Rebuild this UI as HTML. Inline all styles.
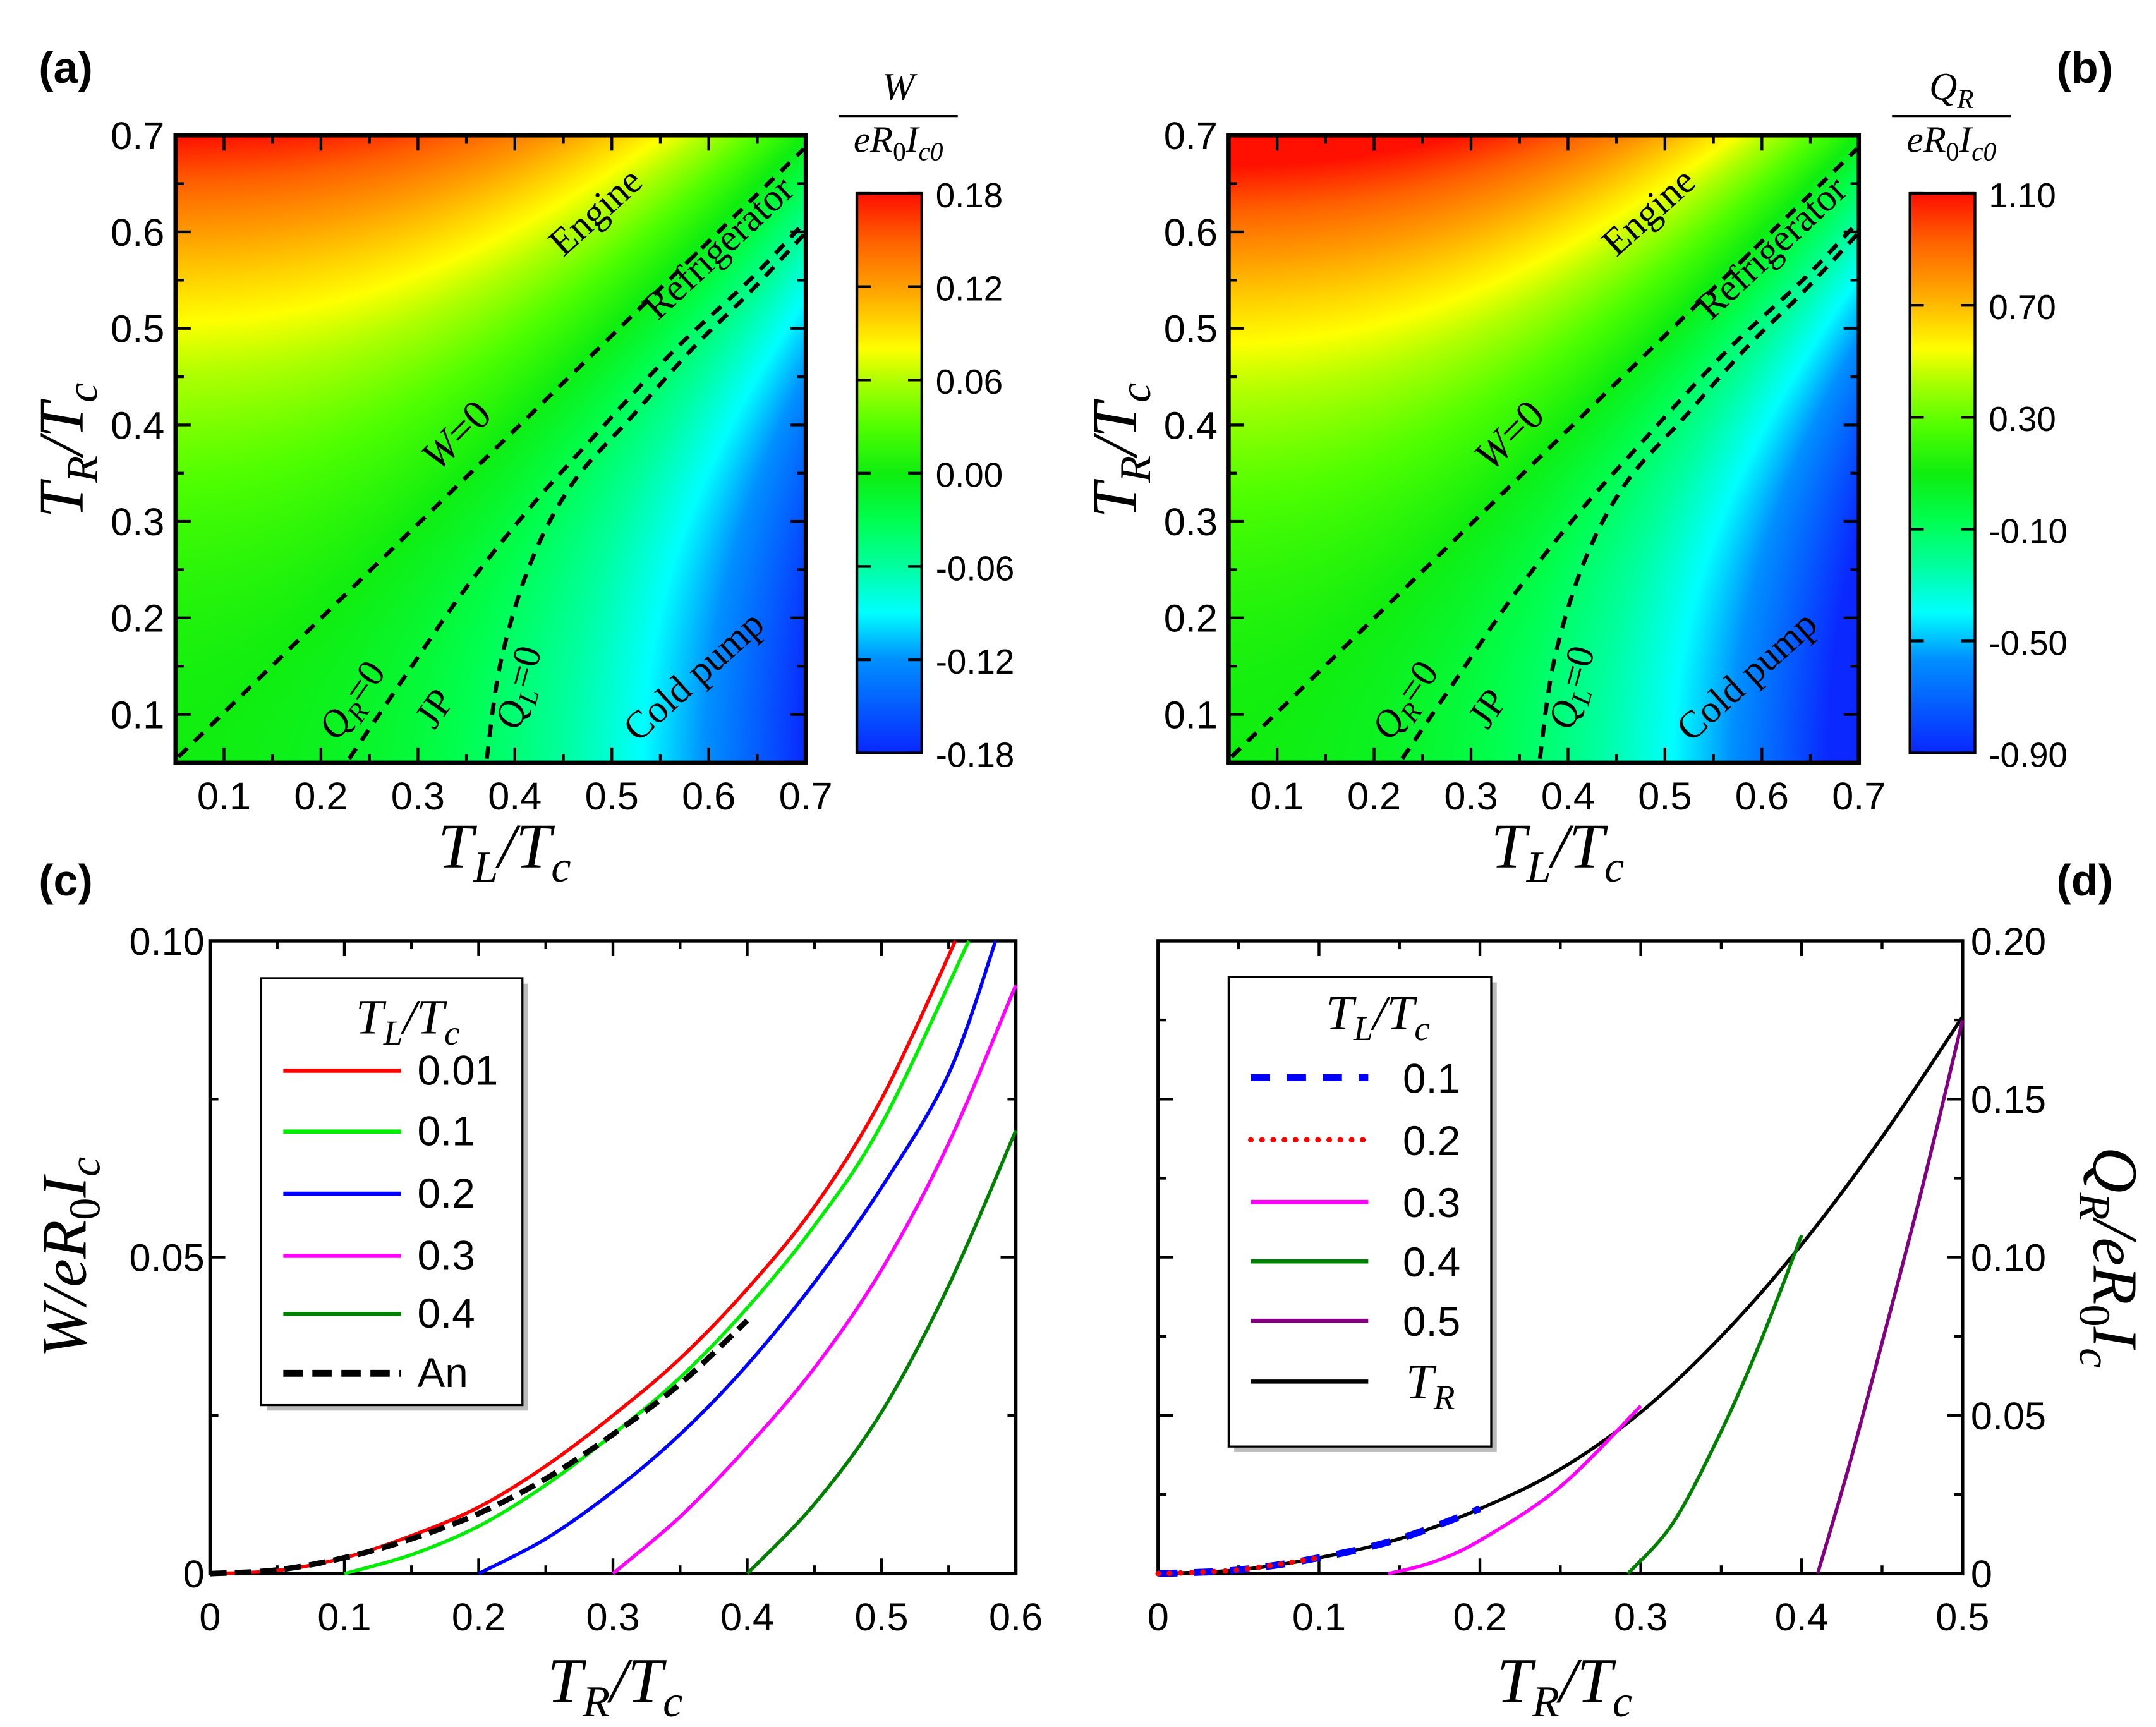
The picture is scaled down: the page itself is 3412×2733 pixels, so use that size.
<!DOCTYPE html>
<html><head><meta charset="utf-8"><style>
html,body{margin:0;padding:0;background:#fff;}
#wrap{position:relative;width:3412px;height:2733px;overflow:hidden;background:#fff;}
canvas{position:absolute;}
svg{position:absolute;left:0;top:0;}
</style></head><body>
<div id="wrap">
<canvas id="hmA"></canvas>
<canvas id="hmB"></canvas>
<canvas id="cbA"></canvas>
<canvas id="cbB"></canvas>
<svg id="fig" width="3412" height="2733" viewBox="0 0 1560 1250" preserveAspectRatio="none" xmlns="http://www.w3.org/2000/svg">
<g font-family="Liberation Sans, sans-serif" font-weight="bold" font-size="32">
<text x="28" y="60">(a)</text>
<text x="1488" y="60">(b)</text>
<text x="28" y="648">(c)</text>
<text x="1488" y="648">(d)</text>
</g>
<g id="layer"></g>
</svg>
</div>
<script>
// ---------- data ----------
const mapTicks = [0.1,0.2,0.3,0.4,0.5,0.6,0.7];
const cbLabelsA = ["0.18","0.12","0.06","0.00","-0.06","-0.12","-0.18"];
const cbLabelsB = ["1.10","0.70","0.30","-0.10","-0.50","-0.90"];
const w0TL = [0.053,0.698];
const w0TR = [0.056,0.686];
const qrTL = [0.229,0.287,0.348,0.412,0.477,0.564,0.642,0.698];
const qrTR = [0.054,0.14,0.229,0.31,0.383,0.477,0.55,0.609];
const qlTL = [0.371,0.386,0.417,0.46,0.521,0.585,0.642,0.698];
const qlTR = [0.054,0.157,0.259,0.34,0.409,0.481,0.537,0.597];

const cX = [0,0.1,0.2,0.3,0.4,0.5,0.6];
const cY = [0,0.05,0.10];
const cYLabels = ["0","0.05","0.10"];
const redTR = [0,0.05,0.1,0.15,0.2,0.25,0.3,0.35,0.4,0.45,0.5,0.555];
const redW  = [0,0.0005,0.0025,0.006,0.0105,0.017,0.025,0.034,0.045,0.058,0.075,0.1];
const grnTR = [0.1,0.15,0.2,0.25,0.3,0.35,0.4,0.45,0.5,0.565];
const grnW  = [0,0.003,0.0075,0.014,0.022,0.031,0.042,0.055,0.071,0.1];
const bluTR = [0.2,0.25,0.3,0.35,0.4,0.45,0.5,0.55,0.585];
const bluW  = [0,0.0055,0.013,0.022,0.033,0.046,0.061,0.079,0.1];
const magTR = [0.3,0.35,0.4,0.45,0.5,0.55,0.6];
const magW  = [0,0.009,0.02,0.0325,0.048,0.068,0.093];
const dgrTR = [0.4,0.45,0.5,0.55,0.6];
const dgrW  = [0,0.011,0.0255,0.0455,0.07];
const anTR  = [0,0.05,0.1,0.15,0.2,0.25,0.3,0.35,0.4];
const anW   = [0,0.0006,0.0025,0.0055,0.0095,0.015,0.022,0.03,0.04];

const dX = [0,0.1,0.2,0.3,0.4,0.5];
const dY = [0,0.05,0.10,0.15,0.20];
const dYLabels = ["0","0.05","0.10","0.15","0.20"];
const blkTR = [0,0.05,0.1,0.15,0.2,0.25,0.3,0.35,0.4,0.45,0.5];
const blkQ  = [0,0.0012,0.005,0.011,0.0205,0.033,0.051,0.075,0.104,0.138,0.176];
const d1TR = [0,0.05,0.1,0.15,0.2];
const d1Q  = [0,0.0012,0.005,0.011,0.0205];
const d2TR = [0,0.05,0.1];
const d2Q  = [0,0.0012,0.005];
const d3TR = [0.143,0.17,0.2,0.25,0.3];
const d3Q  = [0,0.0035,0.0105,0.0275,0.053];
const d4TR = [0.292,0.32,0.35,0.375,0.4];
const d4Q  = [0,0.016,0.045,0.074,0.107];
const d5TR = [0.41,0.43,0.45,0.475,0.5];
const d5Q  = [0,0.035,0.073,0.122,0.175];

// ---------- helpers ----------
const NS="http://www.w3.org/2000/svg";
const layer=document.getElementById('layer');
function mk(tag,attrs,parent){const e=document.createElementNS(NS,tag);for(const k in attrs)e.setAttribute(k,attrs[k]);(parent||layer).appendChild(e);return e;}
function txt(x,y,s,attrs,parent){const e=mk('text',Object.assign({x:x,y:y},attrs||{}),parent);e.textContent=s;return e;}
function mathLabel(x,y,parts,size,rot,name){
  const g=mk('g',{transform:`translate(${x},${y}) rotate(${rot||0})`});
  
  
  const t=mk('text',{x:0,y:0,'text-anchor':'middle','font-family':'Liberation Serif, serif','font-style':'italic','font-size':size},g);
  parts.forEach(p=>{const ts=document.createElementNS(NS,'tspan');
    if(p[1]==='sub'){ts.setAttribute('font-size',size*0.7);ts.setAttribute('dy',size*0.22);}
    else if(p[1]==='up'){ts.setAttribute('dy',-size*0.22);}
    if(p[2]==='n') ts.setAttribute('font-style','normal');
    ts.textContent=p[0];t.appendChild(ts);});
  return g;
}
function scale(d0,d1,p0,p1){return v=>p0+(v-d0)/(d1-d0)*(p1-p0);}
function smoothPath(pts){
  if(pts.length<3) return 'M'+pts.map(p=>p[0].toFixed(1)+','+p[1].toFixed(1)).join(' L');
  let d='M'+pts[0][0].toFixed(1)+','+pts[0][1].toFixed(1);
  for(let i=0;i<pts.length-1;i++){
    const p0=pts[Math.max(0,i-1)],p1=pts[i],p2=pts[i+1],p3=pts[Math.min(pts.length-1,i+2)];
    const c1=[p1[0]+(p2[0]-p0[0])/6,p1[1]+(p2[1]-p0[1])/6];
    const c2=[p2[0]-(p3[0]-p1[0])/6,p2[1]-(p3[1]-p1[1])/6];
    d+=` C${c1[0].toFixed(1)},${c1[1].toFixed(1)} ${c2[0].toFixed(1)},${c2[1].toFixed(1)} ${p2[0].toFixed(1)},${p2[1].toFixed(1)}`;
  }
  return d;
}

// ---------- colormap ----------
const cmF=[0,0.167,0.25,0.333,0.417,0.5,0.583,0.667,0.722,0.833,0.917,1];
const cmC=[[10,40,255],[0,144,255],[0,255,255],[0,255,160],[0,255,80],[16,238,16],[80,255,0],[176,255,0],[255,255,0],[255,160,0],[255,96,0],[255,16,0]];
function cmap(f){f=Math.max(0,Math.min(1,f));for(let i=1;i<cmF.length;i++){if(f<=cmF[i]){const t=(f-cmF[i-1])/(cmF[i]-cmF[i-1]);const a=cmC[i-1],b=cmC[i];return [a[0]+(b[0]-a[0])*t,a[1]+(b[1]-a[1])*t,a[2]+(b[2]-a[2])*t];}}return cmC[cmC.length-1];}
const SX=3412/1560, SY=2733/1250;
function placeCanvas(id,x0,y0,x1,y1){const c=document.getElementById(id);const w=Math.round((x1-x0)*SX),h=Math.round((y1-y0)*SY);c.width=w;c.height=h;c.style.left=Math.round(x0*SX)+'px';c.style.top=Math.round(y0*SY)+'px';return c;}
function field(TL,TR,boost){const h=t=>Math.pow(t,2.5);const W=0.44*(h(TR)-h(TL));return (W/0.18*boost+1)/2;}
function drawHeat(id,x0,y0,x1,y1,boost){const c=placeCanvas(id,x0,y0,x1,y1);const ctx=c.getContext('2d');const img=ctx.createImageData(c.width,c.height);
  for(let j=0;j<c.height;j++){const TR=0.7-j/c.height*0.65;for(let i=0;i<c.width;i++){const TL=0.05+i/c.width*0.65;const col=cmap(field(TL,TR,boost));const k=(j*c.width+i)*4;img.data[k]=col[0];img.data[k+1]=col[1];img.data[k+2]=col[2];img.data[k+3]=255;}}
  ctx.putImageData(img,0,0);}
function drawCB(id,x0,y0,x1,y1){const c=placeCanvas(id,x0,y0,x1,y1);const ctx=c.getContext('2d');for(let j=0;j<c.height;j++){const col=cmap(1-j/c.height);ctx.fillStyle=`rgb(${col[0]|0},${col[1]|0},${col[2]|0})`;ctx.fillRect(0,j,c.width,1);}}

// ---------- map panels ----------
function mapPanel(ox,hmId,cbId,boost,cbLabels,topSym,tag){
  const L=127+ox,R=583+ox,T=98,B=552;
  drawHeat(hmId,L,T,R,B,boost);
  const sx=scale(0.05,0.7,L,R), sy=scale(0.05,0.7,B,T);
  const g=mk('g',{});
  
  
  mk('rect',{x:L,y:T,width:R-L,height:B-T,fill:'none',stroke:'#000','stroke-width':3},g);
  for(let v=0.05;v<=0.7001;v+=0.05){const maj=Math.abs(v*10-Math.round(v*10))<1e-6;const len=maj?11:6;
    mk('line',{x1:sx(v),y1:B,x2:sx(v),y2:B-len,stroke:'#000','stroke-width':2},g);
    mk('line',{x1:sx(v),y1:T,x2:sx(v),y2:T+len,stroke:'#000','stroke-width':2},g);
    mk('line',{x1:L,y1:sy(v),x2:L+len,y2:sy(v),stroke:'#000','stroke-width':2},g);
    mk('line',{x1:R,y1:sy(v),x2:R-len,y2:sy(v),stroke:'#000','stroke-width':2},g);}
  mapTicks.forEach(v=>{
    const a=txt(sx(v),586,v.toFixed(1),{'text-anchor':'middle','font-family':'Liberation Sans, sans-serif','font-size':28},g);
    
    const b=txt(L-8,sy(v)+10,v.toFixed(1),{'text-anchor':'end','font-family':'Liberation Sans, sans-serif','font-size':28},g);
    });
  function line(xs,ys,name){const e=mk('path',{d:smoothPath(xs.map((x,i)=>[sx(x),sy(ys[i])])),fill:'none',stroke:'#000','stroke-width':3,'stroke-dasharray':'9,7'},g);}
  line(w0TL,w0TR,'contour-w-zero');line(qrTL,qrTR,'contour-qr-zero');line(qlTL,qlTR,'contour-ql-zero');
  const lab=(x,y,r,parts,name)=>{const e=mathLabel(x+ox,y,parts,28,r,name);e.querySelector('text').setAttribute('font-style','normal');};
  lab(437,160,-42,[['Engine','','n']],'label-engine');
  lab(526,186,-43,[['Refrigerator','','n']],'label-refrigerator');
  mathLabel(337+ox,322,[['W'],['=0','','n']],30,-45,'label-w-zero');
  mathLabel(262+ox,512,[['Q'],['R','sub'],['=0','up','n']],28,-55,'label-qr-zero');
  lab(322,518,-55,[['JP','','n']],'label-jp');
  mathLabel(384+ox,500,[['Q'],['L','sub'],['=0','up','n']],28,-75,'label-ql-zero');
  lab(508,496,-42,[['Cold pump','','n']],'label-cold-pump');
  mathLabel(365+ox,628,[['T'],['L','sub'],['/T','up'],['c','sub']],46,0,'x-axis-title');
  mathLabel(60+ox,326,[['T'],['R','sub'],['/T','up'],['c','sub']],46,-90,'y-axis-title');
  const cL=620+ox,cR=667+ox,cT=140,cB=545;
  drawCB(cbId,cL,cT,cR,cB);
  mk('rect',{x:cL,y:cT,width:cR-cL,height:cB-cT,fill:'none',stroke:'#000','stroke-width':2},g);
  const n=cbLabels.length;
  cbLabels.forEach((s,i)=>{const y=cT+i*(cB-cT)/(n-1);
    mk('line',{x1:cL,y1:y,x2:cL+10,y2:y,stroke:'#000','stroke-width':2},g);
    mk('line',{x1:cR,y1:y,x2:cR-10,y2:y,stroke:'#000','stroke-width':2},g);
    const e=txt(cR+10,y+10,s,{'font-family':'Liberation Sans, sans-serif','font-size':25},g);
    });
  const cx=650+ox;
  mathLabel(cx,72,topSym,28,0,'colorbar-title-numerator');
  mk('line',{x1:cx-43,y1:84,x2:cx+43,y2:84,stroke:'#000','stroke-width':1.5},g);
  mathLabel(cx,110,[['eR'],['0','sub','n'],['I','up'],['c0','sub']],27,0,'colorbar-title-denominator');
}
mapPanel(0,'hmA','cbA',1.0,cbLabelsA,[['W']],'a');
mapPanel(762,'hmB','cbB',1.12,cbLabelsB,[['Q'],['R','sub']],'b');

// ---------- line panels ----------
function curve(sx,sy,xs,ys,attrs,name){const e=mk('path',Object.assign({d:smoothPath(xs.map((x,i)=>[sx(x),sy(ys[i])])),fill:'none'},attrs));return e;}
function frame(L,R,T,B){mk('rect',{x:L,y:T,width:R-L,height:B-T,fill:'none',stroke:'#000','stroke-width':2.5});}
{const L=152,R=735,T=681,B=1139;const sx=scale(0,0.6,L,R),sy=scale(0,0.1,B,T);
 frame(L,R,T,B);
 for(let v=0;v<=0.6001;v+=0.05){const maj=Math.abs(v*10-Math.round(v*10))<1e-6;const len=maj?11:6;
  mk('line',{x1:sx(v),y1:B,x2:sx(v),y2:B-len,stroke:'#000','stroke-width':2});mk('line',{x1:sx(v),y1:T,x2:sx(v),y2:T+len,stroke:'#000','stroke-width':2});}
 for(let v=0;v<=0.1001;v+=0.025){const len=Math.abs(v*20-Math.round(v*20))<1e-6?11:6;
  mk('line',{x1:L,y1:sy(v),x2:L+len,y2:sy(v),stroke:'#000','stroke-width':2});mk('line',{x1:R,y1:sy(v),x2:R-len,y2:sy(v),stroke:'#000','stroke-width':2});}
 cX.forEach(v=>{const e=txt(sx(v),1180,String(v),{'text-anchor':'middle','font-family':'Liberation Sans, sans-serif','font-size':28});});
 cY.forEach((v,i)=>{const e=txt(L-4,sy(v)+10,cYLabels[i],{'text-anchor':'end','font-family':'Liberation Sans, sans-serif','font-size':28});});
 curve(sx,sy,redTR,redW,{stroke:'#ff0000','stroke-width':2.5},'series-red-0.01');
 curve(sx,sy,grnTR,grnW,{stroke:'#00ee00','stroke-width':2.5},'series-green-0.1');
 curve(sx,sy,bluTR,bluW,{stroke:'#0000ff','stroke-width':2.5},'series-blue-0.2');
 curve(sx,sy,magTR,magW,{stroke:'#ff00ff','stroke-width':2.5},'series-magenta-0.3');
 curve(sx,sy,dgrTR,dgrW,{stroke:'#008000','stroke-width':2.5},'series-darkgreen-0.4');
 curve(sx,sy,anTR,anW,{stroke:'#000','stroke-width':4,'stroke-dasharray':'12,6'},'series-analytic');
 mathLabel(445,1232,[['T'],['R','sub'],['/T','up'],['c','sub']],46,0,'x-axis-title-c');
 mathLabel(62,910,[['W/eR'],['0','sub','n'],['I','up'],['c','sub']],46,-90,'y-axis-title-c');
 const lg=mk('g',{});
 mk('rect',{x:193,y:712,width:189,height:309,fill:'#bbb'},lg);
 mk('rect',{x:189,y:708,width:189,height:309,fill:'#fff',stroke:'#000','stroke-width':1.5},lg);
 mathLabel(295,748,[['T'],['L','sub'],['/T','up'],['c','sub']],36,0,'legend-title-c');
 const ents=[['#ff0000','0.01',0],['#00ee00','0.1',0],['#0000ff','0.2',0],['#ff00ff','0.3',0],['#008000','0.4',0],['#000','An',1]];
 const ys=[775,819,864,909,951,994];
 ents.forEach((e,i)=>{mk('line',{x1:205,y1:ys[i],x2:290,y2:ys[i],stroke:e[0],'stroke-width':e[2]?5:3,'stroke-dasharray':e[2]?'14,7':'none'},lg);
  const t=txt(302,ys[i]+10,e[1],{'font-family':'Liberation Sans, sans-serif','font-size':30},lg);});
}
{const L=838,R=1420,T=681,B=1139;const sx=scale(0,0.5,L,R),sy=scale(0,0.2,B,T);
 frame(L,R,T,B);
 for(let v=0;v<=0.5001;v+=0.05){const maj=Math.abs(v*10-Math.round(v*10))<1e-6;const len=maj?11:6;
  mk('line',{x1:sx(v),y1:B,x2:sx(v),y2:B-len,stroke:'#000','stroke-width':2});mk('line',{x1:sx(v),y1:T,x2:sx(v),y2:T+len,stroke:'#000','stroke-width':2});}
 for(let v=0;v<=0.2001;v+=0.025){const len=Math.abs(v*20-Math.round(v*20))<1e-6?11:6;
  mk('line',{x1:L,y1:sy(v),x2:L+len,y2:sy(v),stroke:'#000','stroke-width':2});mk('line',{x1:R,y1:sy(v),x2:R-len,y2:sy(v),stroke:'#000','stroke-width':2});}
 dX.forEach(v=>{const e=txt(sx(v),1180,String(v),{'text-anchor':'middle','font-family':'Liberation Sans, sans-serif','font-size':28});});
 dY.forEach((v,i)=>{const e=txt(R+6,sy(v)+10,dYLabels[i],{'font-family':'Liberation Sans, sans-serif','font-size':28});});
 curve(sx,sy,blkTR,blkQ,{stroke:'#000','stroke-width':2.5},'series-tr');
 curve(sx,sy,d1TR,d1Q,{stroke:'#0000ff','stroke-width':5,'stroke-dasharray':'14,12'},'series-0.1');
 curve(sx,sy,d2TR,d2Q,{stroke:'#ff0000','stroke-width':4,'stroke-dasharray':'0.1,8','stroke-linecap':'round'},'series-0.2');
 curve(sx,sy,d3TR,d3Q,{stroke:'#ff00ff','stroke-width':2.5},'series-0.3');
 curve(sx,sy,d4TR,d4Q,{stroke:'#008000','stroke-width':2.5},'series-0.4');
 curve(sx,sy,d5TR,d5Q,{stroke:'#800080','stroke-width':2.5},'series-0.5');
 mathLabel(1132,1232,[['T'],['R','sub'],['/T','up'],['c','sub']],46,0,'x-axis-title-d');
 mathLabel(1515,910,[['Q'],['R','sub'],['/eR','up'],['0','sub','n'],['I','up'],['c','sub']],46,90,'y-axis-title-d');
 const lg=mk('g',{});
 mk('rect',{x:893,y:711,width:190,height:340,fill:'#bbb'},lg);
 mk('rect',{x:889,y:707,width:190,height:340,fill:'#fff',stroke:'#000','stroke-width':1.5},lg);
 mathLabel(997,745,[['T'],['L','sub'],['/T','up'],['c','sub']],36,0,'legend-title-d');
 const ys=[780,825,870,913,956,1000];
 const ents=[['#0000ff','0.1','14,12',5],['#ff0000','0.2','0.1,8',4],['#ff00ff','0.3','none',3],['#008000','0.4','none',3],['#800080','0.5','none',3],['#000','','none',3]];
 ents.forEach((e,i)=>{mk('line',{x1:905,y1:ys[i],x2:990,y2:ys[i],stroke:e[0],'stroke-width':e[3],'stroke-dasharray':e[2],'stroke-linecap':e[1]==='0.2'?'round':'butt'},lg);
  if(e[1]){const t=txt(1015,ys[i]+11,e[1],{'font-family':'Liberation Sans, sans-serif','font-size':30},lg);}});
 mathLabel(1035,1012,[['T'],['R','sub']],36,0,'legend-entry-tr');
}
</script>
</body></html>
